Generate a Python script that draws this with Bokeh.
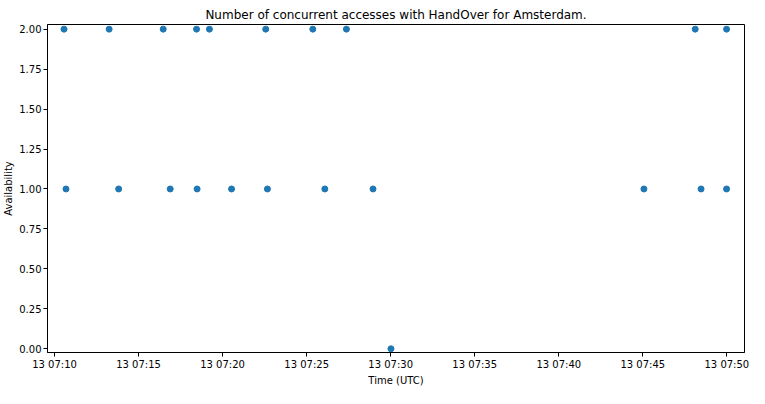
from datetime import datetime
from bokeh.plotting import figure
from bokeh.models import FixedTicker, DatetimeTickFormatter, NumeralTickFormatter, Range1d, ColumnDataSource
from bokeh.embed import file_html
from bokeh.resources import INLINE

DAY = "2023-06-13 "
times_two = ["07:10:34", "07:13:15", "07:16:28", "07:18:27", "07:19:13", "07:22:34",
             "07:25:22", "07:27:22", "07:48:07", "07:49:59"]
times_one = ["07:10:41", "07:13:49", "07:16:53", "07:18:29", "07:20:32", "07:22:40",
             "07:26:05", "07:28:57", "07:45:04", "07:48:28", "07:49:59"]
times_zero = ["07:30:01"]
x_tick_times = ["07:10", "07:15", "07:20", "07:25", "07:30", "07:35", "07:40", "07:45", "07:50"]
y_ticks = [0.0, 0.25, 0.5, 0.75, 1.0, 1.25, 1.5, 1.75, 2.0]


def ts(s, fmt):
    return datetime.strptime(DAY + s, "%Y-%m-%d " + fmt)


xs = ([ts(t, "%H:%M:%S") for t in times_two] + [ts(t, "%H:%M:%S") for t in times_one]
      + [ts(t, "%H:%M:%S") for t in times_zero])
ys = [2] * len(times_two) + [1] * len(times_one) + [0] * len(times_zero)
src = ColumnDataSource(dict(x=xs, y=ys))

FONT = "DejaVu Sans"
p = figure(width=749, height=388, output_backend="svg", toolbar_location=None,
           x_axis_type="datetime",
           title="Number of concurrent accesses with HandOver for Amsterdam.",
           x_range=Range1d(ts("07:09:35", "%H:%M:%S"), ts("07:51:03", "%H:%M:%S")),
           y_range=Range1d(-0.023, 2.029),
           min_border_left=42, min_border_right=5, min_border_top=24, min_border_bottom=0)

p.scatter("x", "y", source=src, size=6, color="#1f77b4")

p.title.align = "center"
p.title.text_font = FONT
p.title.text_font_size = "12px"
p.title.text_font_style = "normal"
p.title.text_color = "black"
p.title.standoff = 6

tick_ms = [ts(t, "%H:%M").timestamp() * 1000 for t in x_tick_times]
p.xaxis.ticker = FixedTicker(ticks=tick_ms)
p.xaxis.formatter = DatetimeTickFormatter(minutes="%d %H:%M", hours="%d %H:%M",
                                          seconds="%d %H:%M", minsec="%d %H:%M",
                                          hourmin="%d %H:%M")
p.yaxis.ticker = FixedTicker(ticks=y_ticks)
p.yaxis.formatter = NumeralTickFormatter(format="0.00")

p.xaxis.axis_label = "Time (UTC)"
p.yaxis.axis_label = "Availability"
for ax in (p.xaxis, p.yaxis):
    ax.axis_label_text_font = FONT
    ax.axis_label_text_font_size = "10px"
    ax.axis_label_text_font_style = "normal"
    ax.axis_label_text_color = "black"
    ax.major_label_text_font = FONT
    ax.major_label_text_font_size = "10px"
    ax.major_label_text_color = "black"
    ax.major_tick_in = 0
    ax.major_tick_out = 4
    ax.minor_tick_line_color = None
    ax.axis_line_color = "black"
    ax.major_tick_line_color = "black"
    ax.major_label_standoff = 2
    ax.axis_label_standoff = 2

p.xgrid.grid_line_color = None
p.ygrid.grid_line_color = None
p.outline_line_color = "black"
p.outline_line_alpha = 1.0
p.outline_line_width = 1

open("out.html", "w").write(file_html(p, INLINE))
